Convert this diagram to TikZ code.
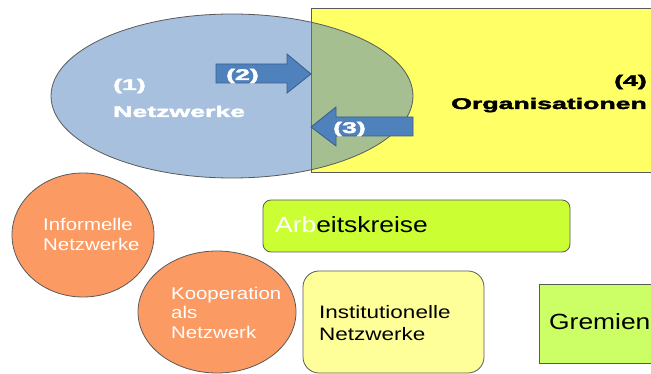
\documentclass[tikz,border=0pt]{standalone}
\usepackage{fontspec}
\setmainfont{Liberation Sans}
\newfontfamily\heavyfont[FakeBold=2]{Liberation Sans Bold}
\usepackage{graphicx}
\usetikzlibrary{shapes.geometric}
\newcommand{\hsc}[2]{\scalebox{#1}[1]{#2}}
\definecolor{netblue}{HTML}{4F81BD}
\definecolor{arrowedge}{HTML}{385D8A}
\definecolor{orgyellow}{HTML}{FFFF66}
\definecolor{circorange}{HTML}{FB9A63}
\definecolor{limebox}{HTML}{CCFF33}
\definecolor{paleyellow}{HTML}{FFFF99}
\definecolor{lightgreen}{HTML}{CCFF66}
\definecolor{edgegray}{HTML}{5A5A5A}
\tikzset{
  shapeedge/.style={draw=edgegray, line width=0.8pt},
  bigarrow/.style={fill=netblue, draw=arrowedge, line width=0.8pt},
  boldlbl/.style={inner sep=0pt, text=white, font=\fontsize{15.5}{18}\selectfont\heavyfont},
  orglbl/.style={inner sep=0pt, text=black, font=\fontsize{15.5}{18}\selectfont\heavyfont},
  circlbl/.style={inner sep=0pt, text=white, font=\fontsize{17}{20}\selectfont},
  boxlbl/.style={inner sep=0pt, text=black},
  circ/.style={ellipse, shapeedge, fill=circorange, inner sep=0pt}
}
\begin{document}
\begin{tikzpicture}[x=1pt,y=-1pt]
\useasboundingbox (0,0) rectangle (651,374);
\begin{scope}
\clip (0,0) rectangle (651,374);
% (4) Organisationen rectangle
\node[shapeedge, fill=orgyellow, rectangle, inner sep=0pt, minimum width=360pt, minimum height=164pt] (org) at (491,90) {};
% (1) Netzwerke ellipse
\node[ellipse, draw=edgegray, line width=0.8pt, fill=netblue, fill opacity=0.5, inner sep=0pt, minimum width=362pt, minimum height=164pt] (net) at (232,96) {};
% arrows
\path[bigarrow] (216,64) -- (287,64) -- (287,54) -- (311,74) -- (287,93) -- (287,83) -- (216,83) -- cycle;
\path[bigarrow] (413,117) -- (336,117) -- (336,107) -- (311,127) -- (336,146) -- (336,136) -- (413,136) -- cycle;
% labels top
\node[boldlbl, anchor=base west] (l1) at (113,90) {\hsc{1.72}{(1)}};
\node[boldlbl, anchor=base west] (l1b) at (113,117) {\hsc{1.72}{Netzwerke}};
\node[boldlbl, anchor=base west] (l2) at (226,80) {\hsc{1.72}{(2)}};
\node[boldlbl, anchor=base west] (l3) at (333,133) {\hsc{1.72}{(3)}};
\node[orglbl, anchor=base east] (l4) at (647,86) {\hsc{1.72}{(4)}};
\node[orglbl, anchor=base east] (l4b) at (647,109) {\hsc{1.72}{Organisationen}};
% lower shapes
\node[circ, minimum width=142pt, minimum height=124pt] (inf) at (83,235) {};
\node[circ, minimum width=158pt, minimum height=122pt] (koop) at (217,312) {};
\node[shapeedge, fill=limebox, rounded corners=8pt, inner sep=0pt, minimum width=307pt, minimum height=52pt] (arb) at (416.5,226) {};
\node[shapeedge, fill=paleyellow, rounded corners=16pt, inner sep=0pt, minimum width=181pt, minimum height=102pt] (inst) at (393.5,322) {};
\node[shapeedge, fill=lightgreen, inner sep=0pt, minimum width=121pt, minimum height=79pt] (grem) at (599.5,323.5) {};
% lower labels
\node[circlbl, anchor=base west] (t1) at (43,231) {\hsc{1.2}{Informelle}};
\node[circlbl, anchor=base west] (t2) at (43,251) {\hsc{1.2}{Netzwerke}};
\node[circlbl, anchor=base west] (t3) at (171,299) {\hsc{1.2}{Kooperation}};
\node[circlbl, anchor=base west] (t4) at (171,319) {\hsc{1.2}{als}};
\node[circlbl, anchor=base west] (t5) at (171,338) {\hsc{1.2}{Netzwerk}};
\node[boxlbl, anchor=base west, font=\fontsize{22}{26}\selectfont] (t6) at (275,233) {\hsc{1.2}{\textcolor{white}{Arb}eitskreise}};
\node[boxlbl, anchor=base west, font=\fontsize{18}{21}\selectfont] (t7) at (319,318) {\hsc{1.25}{Institutionelle}};
\node[boxlbl, anchor=base west, font=\fontsize{18}{21}\selectfont] (t8) at (319,340) {\hsc{1.25}{Netzwerke}};
\node[boxlbl, anchor=base west, font=\fontsize{22}{26}\selectfont] (t9) at (549,330) {\hsc{1.2}{Gremien}};
\end{scope}
\end{tikzpicture}
\end{document}
